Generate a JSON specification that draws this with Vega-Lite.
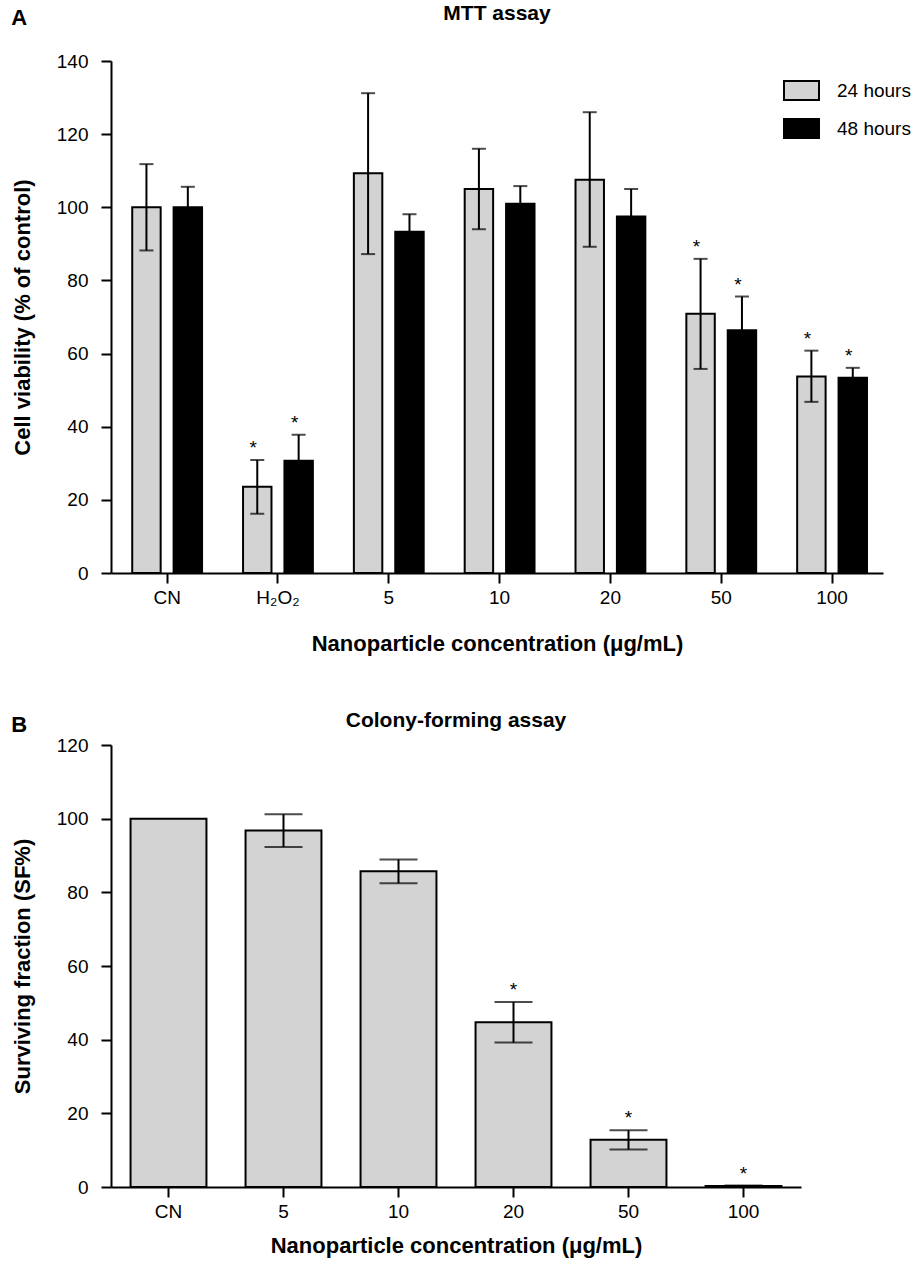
{
  "$schema": "https://vega.github.io/schema/vega-lite/v6.json",
  "background": "white",
  "padding": {"left": 11, "top": 3, "right": 10, "bottom": 5},
  "spacing": 56,
  "config": {
    "font": "Liberation Sans",
    "view": {"stroke": null},
    "axis": {
      "domainColor": "black", "domainWidth": 2, "tickColor": "black", "tickWidth": 2, "tickSize": 10,
      "labelColor": "black", "labelFontSize": 19, "labelFont": "Liberation Sans",
      "titleColor": "black", "titleFontSize": 22, "titleFontWeight": "bold", "titleFont": "Liberation Sans",
      "grid": false
    },
    "title": {"fontSize": 21, "fontWeight": "bold", "color": "black", "font": "Liberation Sans"}
  },
  "vconcat": [
    {
      "title": {"text": "A", "anchor": "start", "frame": "bounds", "fontSize": 22, "offset": 0, "dy": 27},
      "vconcat": [
        {
          "title": {"text": "MTT assay", "anchor": "middle", "offset": 28},
          "width": 772,
          "height": 512,
          "data": {
            "values": [
              {"cat": "CN", "time": "24 hours", "value": 100, "lo": 88.2, "hi": 111.8, "sig": ""},
              {"cat": "CN", "time": "48 hours", "value": 100, "lo": 94.4, "hi": 105.6, "sig": ""},
              {"cat": "H₂O₂", "time": "24 hours", "value": 23.6, "lo": 16.2, "hi": 30.9, "sig": "*"},
              {"cat": "H₂O₂", "time": "48 hours", "value": 30.7, "lo": 23.6, "hi": 37.8, "sig": "*"},
              {"cat": "5", "time": "24 hours", "value": 109.3, "lo": 87.2, "hi": 131.2, "sig": ""},
              {"cat": "5", "time": "48 hours", "value": 93.3, "lo": 88.5, "hi": 98.1, "sig": ""},
              {"cat": "10", "time": "24 hours", "value": 105, "lo": 94, "hi": 116, "sig": ""},
              {"cat": "10", "time": "48 hours", "value": 101, "lo": 96.2, "hi": 105.8, "sig": ""},
              {"cat": "20", "time": "24 hours", "value": 107.5, "lo": 89.2, "hi": 126, "sig": ""},
              {"cat": "20", "time": "48 hours", "value": 97.5, "lo": 90, "hi": 105, "sig": ""},
              {"cat": "50", "time": "24 hours", "value": 70.9, "lo": 55.8, "hi": 85.9, "sig": "*"},
              {"cat": "50", "time": "48 hours", "value": 66.4, "lo": 57.2, "hi": 75.6, "sig": "*"},
              {"cat": "100", "time": "24 hours", "value": 53.7, "lo": 46.8, "hi": 60.8, "sig": "*"},
              {"cat": "100", "time": "48 hours", "value": 53.4, "lo": 50.7, "hi": 56.1, "sig": "*"}
            ]
          },
          "encoding": {
            "x": {
              "field": "cat", "type": "nominal",
              "sort": ["CN", "H₂O₂", "5", "10", "20", "50", "100"],
              "scale": {"paddingInner": 0.37, "paddingOuter": 0.168, "align": 0.57},
              "axis": {"title": "Nanoparticle concentration (μg/mL)", "labelAngle": 0, "labelPadding": 5, "titlePadding": 26}
            },
            "xOffset": {
              "field": "time", "type": "nominal",
              "scale": {"domain": ["24 hours", "48 hours"], "paddingInner": 0.313, "paddingOuter": 0}
            }
          },
          "layer": [
            {
              "mark": {"type": "bar", "stroke": "black", "strokeWidth": 2},
              "encoding": {
                "y": {
                  "field": "value", "type": "quantitative",
                  "scale": {"domain": [0, 140], "nice": false},
                  "axis": {"title": "Cell viability (% of control)", "values": [0, 20, 40, 60, 80, 100, 120, 140], "labelPadding": 13, "titlePadding": 22}
                },
                "fill": {
                  "field": "time", "type": "nominal",
                  "scale": {"domain": ["24 hours", "48 hours"], "range": ["#d3d3d3", "#000000"]},
                  "legend": {
                    "title": null, "orient": "none", "legendX": 672, "legendY": 11,
                    "symbolType": "M-1,-0.543H1V0.543H-1Z", "symbolSize": 1225,
                    "symbolStrokeColor": "black", "symbolStrokeWidth": 2,
                    "labelFontSize": 19, "labelColor": "black", "labelOffset": 17, "rowPadding": 5
                  }
                }
              }
            },
            {
              "mark": {"type": "rule", "strokeWidth": 2, "color": "black"},
              "encoding": {
                "y": {"field": "lo", "type": "quantitative"},
                "y2": {"field": "hi"}
              }
            },
            {
              "mark": {"type": "tick", "size": 14, "thickness": 2, "color": "black"},
              "encoding": {"y": {"field": "hi", "type": "quantitative"}}
            },
            {
              "mark": {"type": "tick", "size": 14, "thickness": 2, "color": "black"},
              "encoding": {"y": {"field": "lo", "type": "quantitative"}}
            },
            {
              "mark": {"type": "text", "baseline": "alphabetic", "dy": -6, "dx": -4, "fontSize": 19, "color": "black"},
              "encoding": {
                "y": {"field": "hi", "type": "quantitative"},
                "text": {"field": "sig"}
              }
            }
          ]
        }
      ]
    },
    {
      "title": {"text": "B", "anchor": "start", "frame": "bounds", "fontSize": 22, "offset": 0, "dy": 27},
      "vconcat": [
        {
          "title": {"text": "Colony-forming assay", "anchor": "middle", "offset": 5},
          "width": 690,
          "height": 442,
          "data": {
            "values": [
              {"cat": "CN", "value": 100, "lo": null, "hi": null, "sig": ""},
              {"cat": "5", "value": 96.8, "lo": 92.3, "hi": 101.2, "sig": ""},
              {"cat": "10", "value": 85.7, "lo": 82.5, "hi": 88.9, "sig": ""},
              {"cat": "20", "value": 44.7, "lo": 39.2, "hi": 50.2, "sig": "*"},
              {"cat": "50", "value": 12.8, "lo": 10.2, "hi": 15.4, "sig": "*"},
              {"cat": "100", "value": 0.3, "lo": 0.3, "hi": 0.4, "sig": "*"}
            ]
          },
          "encoding": {
            "x": {
              "field": "cat", "type": "nominal",
              "sort": ["CN", "5", "10", "20", "50", "100"],
              "scale": {"paddingInner": 0.34, "paddingOuter": 0.17},
              "axis": {"title": "Nanoparticle concentration (μg/mL)", "labelAngle": 0, "labelPadding": 5, "titlePadding": 14}
            }
          },
          "layer": [
            {
              "mark": {"type": "bar", "stroke": "black", "strokeWidth": 2, "fill": "#d3d3d3"},
              "encoding": {
                "y": {
                  "field": "value", "type": "quantitative",
                  "scale": {"domain": [0, 120], "nice": false},
                  "axis": {"title": "Surviving fraction (SF%)", "values": [0, 20, 40, 60, 80, 100, 120], "labelPadding": 13, "titlePadding": 22}
                }
              }
            },
            {
              "mark": {"type": "rule", "strokeWidth": 2, "color": "black"},
              "encoding": {
                "y": {"field": "lo", "type": "quantitative"},
                "y2": {"field": "hi"}
              }
            },
            {
              "mark": {"type": "tick", "size": 38, "thickness": 2, "color": "black"},
              "encoding": {"y": {"field": "hi", "type": "quantitative"}}
            },
            {
              "mark": {"type": "tick", "size": 38, "thickness": 2, "color": "black"},
              "encoding": {"y": {"field": "lo", "type": "quantitative"}}
            },
            {
              "mark": {"type": "text", "baseline": "alphabetic", "dy": -6, "fontSize": 19, "color": "black"},
              "encoding": {
                "y": {"field": "hi", "type": "quantitative"},
                "text": {"field": "sig"}
              }
            }
          ]
        }
      ]
    }
  ]
}
